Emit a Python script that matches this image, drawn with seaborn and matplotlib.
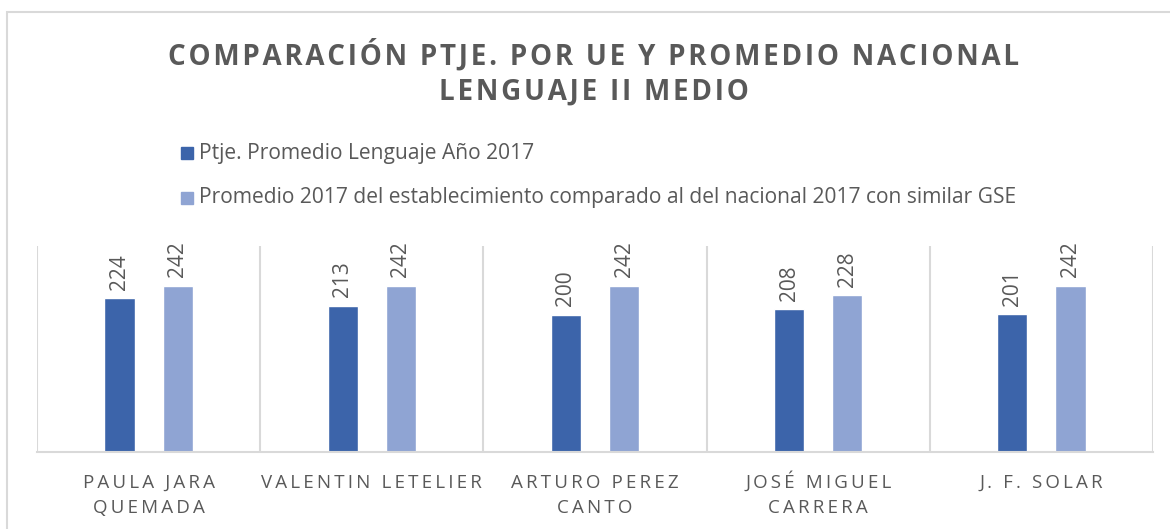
import matplotlib
matplotlib.use("Agg")
import matplotlib.pyplot as plt
import seaborn as sns
import pandas as pd
import numpy as np
from matplotlib.patches import Rectangle

schools = ["PAULA JARA QUEMADA", "VALENTIN LETELIER", "ARTURO PEREZ CANTO",
           "JOSÉ MIGUEL CARRERA", "J. F. SOLAR"]
tick_labels = ["PAULA JARA\nQUEMADA", "VALENTIN LETELIER", "ARTURO PEREZ\nCANTO",
               "JOSÉ MIGUEL\nCARRERA", "J. F. SOLAR"]
ptje_2017 = [224, 213, 200, 208, 201]
nacional_2017 = [242, 242, 242, 228, 242]
series_names = ["Ptje. Promedio Lenguaje Año 2017",
                "Promedio 2017 del establecimiento comparado al del nacional 2017 con similar GSE"]
colors = ["#3C64AA", "#8FA4D3"]

df = pd.DataFrame({
    "school": schools * 2,
    "value": ptje_2017 + nacional_2017,
    "serie": [series_names[0]] * 5 + [series_names[1]] * 5,
})

sns.set_style("white")
plt.rcParams["font.family"] = ["Open Sans", "DejaVu Sans"]

gray = "#595959"
grid = "#D9D9D9"


def spaced(s, sep="\u2009"):
    return "\n".join(sep.join(line) for line in s.split("\n"))


def two_lines(s):
    # keep every label at two lines so the baselines line up
    return s if "\n" in s else s + "\n "


fig = plt.figure(figsize=(11.7, 5.29), dpi=100)
ax = fig.add_axes([37 / 1170, 1 - 452 / 529, 1116 / 1170, 206 / 529])

sns.barplot(data=df, x="school", y="value", hue="serie", palette=colors,
            order=schools, hue_order=series_names, width=0.52, gap=0.48,
            saturation=1, ax=ax, legend=False)

for cont in ax.containers:
    ax.bar_label(cont, rotation=90, padding=6, color=gray, fontsize=15)

ax.set_ylim(0, 300)
ax.set_xlim(-0.5, 4.5)
ax.set_yticks([])
ax.set_xlabel("")
ax.set_ylabel("")
ax.set_xticks(range(5))
ax.set_xticklabels([spaced(two_lines(t)) for t in tick_labels], color=gray,
                   fontsize=13.5, linespacing=1.5)
for lab in ax.get_xticklabels():
    lab.set_va("baseline")
ax.tick_params(axis="x", length=0, pad=44)
ax.set_xticks(np.arange(-0.5, 5, 1), minor=True)
ax.tick_params(axis="x", which="minor", length=0)
ax.grid(True, axis="x", which="minor", color=grid, linewidth=1.5)
for side in ["top", "left", "right"]:
    ax.spines[side].set_visible(False)
ax.spines["bottom"].set_color(grid)
ax.spines["bottom"].set_linewidth(1.5)

# legend
for i, (name, c) in enumerate(zip(series_names, colors)):
    y = 1 - (153 + 45 * i) / 529
    fig.patches.append(Rectangle((181 / 1170, y - 6 / 529), 12 / 1170, 12 / 529,
                                 transform=fig.transFigure, color=c))
    fig.text(199 / 1170, y, name, color=gray, fontsize=15.1, va="center", ha="left")

fig.text(594 / 1170, 1 - 55 / 529, spaced("COMPARACIÓN PTJE. POR UE Y PROMEDIO NACIONAL", "\u200a"),
         ha="center", va="center", fontsize=20, fontweight="bold", color=gray)
fig.text(594 / 1170, 1 - 92 / 529, spaced("LENGUAJE II MEDIO", "\u200a"),
         ha="center", va="center", fontsize=20, fontweight="bold", color=gray)

fig.patches.append(Rectangle((7 / 1170, -0.1), 1.2, 1 - 12 / 529 + 0.1,
                             transform=fig.transFigure, fill=False,
                             edgecolor=grid, linewidth=1.5))

fig.savefig("out.png", dpi=100)
